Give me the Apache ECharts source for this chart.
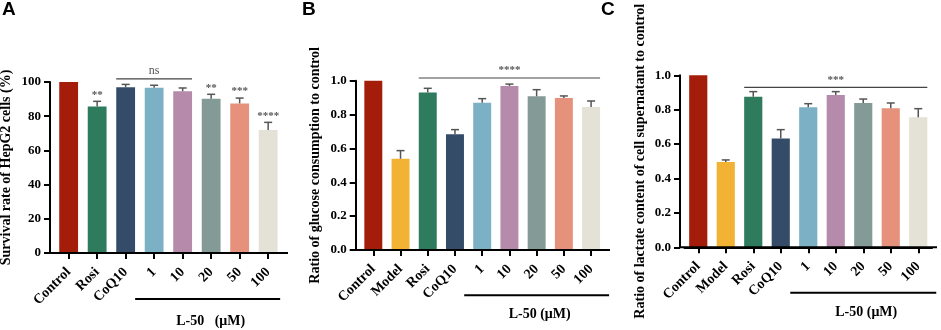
<!DOCTYPE html>
<html>
<head>
<meta charset="utf-8">
<script src="https://cdn.jsdelivr.net/npm/echarts@6/dist/echarts.min.js"></script>
<style>
html, body { margin: 0; padding: 0; background: #fff; }
#chart { width: 941px; height: 330px; }
</style>
</head>
<body>
<div id="chart"></div>
<script>
// ---- data ----
var catsA = ['Control', 'Rosi', 'CoQ10', '1', '10', '20', '50', '100'];
var meanA = [100, 85.6, 96.9, 96.7, 94.6, 90.2, 87.5, 71.9];
var upperA = [null, 88.7, 98.6, 98.1, 96.5, 92.8, 90.6, 76.4];
var sigA = ['', '**', '', '', '', '**', '***', '****'];
var ticksA = [0, 20, 40, 60, 80, 100];

var catsB = ['Control', 'Model', 'Rosi', 'CoQ10', '1', '10', '20', '50', '100'];
var meanB = [1.0, 0.539, 0.931, 0.683, 0.870, 0.969, 0.908, 0.898, 0.845];
var upperB = [null, 0.587, 0.955, 0.711, 0.894, 0.980, 0.947, 0.910, 0.880];

var catsC = ['Control', 'Model', 'Rosi', 'CoQ10', '1', '10', '20', '50', '100'];
var meanC = [1.0, 0.496, 0.876, 0.632, 0.814, 0.885, 0.839, 0.808, 0.756];
var upperC = [null, 0.508, 0.905, 0.684, 0.835, 0.905, 0.862, 0.839, 0.806];
var ticksBC = [0, 0.2, 0.4, 0.6, 0.8, 1.0];

var colorsA = ['#a31d0a', '#2e7b5d', '#354c68', '#7bb0c5', '#b58aab', '#849a97', '#e6917b', '#e4e1d6'];
var colorsB = ['#a31d0a', '#f2b233', '#2e7b5d', '#354c68', '#7bb0c5', '#b58aab', '#849a97', '#e6917b', '#e4e1d6'];

var bracketA = {from: 2, to: 4, y: 101.8, text: 'ns'};
var bracketB = {from: 2, to: 8, y: 1.016, text: '****'};
var bracketC = {from: 2, to: 8, y: 0.930, text: '***'};

var groupA = {from: 3, to: 7, text: 'L-50   (\u03bcM)'};
var groupB = {from: 4, to: 8, text: 'L-50 (\u03bcM)'};
var groupC = {from: 4, to: 8, text: 'L-50 (\u03bcM)'};

var titleA = 'Survival rate of HepG2 cells (%)';
var titleB = 'Ratio of glucose consumption to control';
var titleC = 'Ratio of lactate content of cell supernatant to control';

// ---- styling ----
var SERIF = 'Liberation Serif, Times New Roman, serif';
var panels = [
    {grid: {left: 54.4, top: 82, width: 228, height: 171}, yOff: 4.4, extR: 5.6, nameGap: 37, grpL: -19, grpR: 12, grpY: 46, grpTextY: 68},
    {grid: {left: 359.7, top: 80.7, width: 245, height: 169.3}, yOff: 4, extR: 5.3, nameGap: 33, grpL: -18, grpR: 18, grpY: 45.3, grpTextY: 64},
    {grid: {left: 684.5, top: 75.3, width: 247.5, height: 172}, yOff: 4.5, extR: 5, nameGap: 33, grpL: -18, grpR: 18, grpY: 45.4, grpTextY: 64.7}
];

function errorRender(sig) {
    return function (params, api) {
        var idx = api.value(0);
        var base = api.coord([idx, api.value(1)]);
        var top = api.coord([idx, api.value(2)]);
        var cap = 4;
        var kids = [
            {type: 'line', shape: {x1: base[0], y1: base[1], x2: base[0], y2: top[1]}, style: {stroke: '#555', lineWidth: 1.5}},
            {type: 'line', shape: {x1: base[0] - cap, y1: top[1], x2: base[0] + cap, y2: top[1]}, style: {stroke: '#555', lineWidth: 1.5}}
        ];
        var s = sig ? sig[idx] : '';
        if (s) {
            kids.push({type: 'text', style: {text: s, x: base[0], y: top[1] - 1, align: 'center', verticalAlign: 'bottom',
                fill: '#555', fontFamily: SERIF, fontWeight: 'bold', fontSize: 11}});
        }
        return {type: 'group', children: kids};
    };
}

function annotRender(p, br, grp) {
    return function (params, api) {
        var cs = params.coordSys;
        var y0 = cs.y + cs.height;
        var bw = api.size([1, 0])[0] * 0.66;
        var b1 = api.coord([br.from, br.y]);
        var b2 = api.coord([br.to, br.y]);
        var bx1 = b1[0] - bw / 2, bx2 = b2[0] + bw / 2;
        var g1 = api.coord([grp.from, 0])[0] + p.grpL;
        var g2 = api.coord([grp.to, 0])[0] + p.grpR;
        var black = {stroke: '#000', lineWidth: 2};
        var isNs = br.text === 'ns';
        return {type: 'group', children: [
            {type: 'line', shape: {x1: cs.x - p.yOff - 1, y1: y0, x2: cs.x + cs.width + p.extR, y2: y0}, style: black},
            {type: 'line', shape: {x1: bx1, y1: b1[1], x2: bx2, y2: b1[1]}, style: {stroke: '#444', lineWidth: 1.2}},
            {type: 'text', style: {text: br.text, x: (bx1 + bx2) / 2, y: b1[1] - 2, align: 'center', verticalAlign: 'bottom',
                fill: '#555', fontFamily: SERIF, fontWeight: isNs ? 'normal' : 'bold', fontSize: isNs ? 12 : 11}},
            {type: 'line', shape: {x1: g1, y1: y0 + p.grpY, x2: g2, y2: y0 + p.grpY}, style: black},
            {type: 'text', style: {text: grp.text, x: (g1 + g2) / 2 + 3, y: y0 + p.grpTextY, align: 'center', verticalAlign: 'middle',
                fill: '#000', fontFamily: SERIF, fontWeight: 'bold', fontSize: 14}}
        ]};
    };
}

var chart = echarts.init(document.getElementById('chart'));

var sets = [
    {cats: catsA, mean: meanA, upper: upperA, sig: sigA, colors: colorsA, ticks: ticksA, br: bracketA, grp: groupA, title: titleA, dec: 0},
    {cats: catsB, mean: meanB, upper: upperB, sig: null, colors: colorsB, ticks: ticksBC, br: bracketB, grp: groupB, title: titleB, dec: 1},
    {cats: catsC, mean: meanC, upper: upperC, sig: null, colors: colorsB, ticks: ticksBC, br: bracketC, grp: groupC, title: titleC, dec: 1}
];

var grids = [], xAxes = [], yAxes = [], series = [];
sets.forEach(function (d, k) {
    var p = panels[k];
    grids.push(Object.assign({outerBoundsMode: 'none', containLabel: false}, p.grid));
    xAxes.push({
        type: 'category', gridIndex: k, data: d.cats,
        axisLine: {show: true, lineStyle: {color: '#000', width: 2}},
        axisTick: {show: true, alignWithLabel: true, length: 6, lineStyle: {color: '#000', width: 2}},
        axisLabel: {rotate: 45, margin: 17, interval: 0, color: '#000', fontFamily: SERIF, fontWeight: 'bold', fontSize: 14}
    });
    var step = d.ticks[1] - d.ticks[0];
    yAxes.push({
        type: 'value', gridIndex: k, min: d.ticks[0], max: d.ticks[d.ticks.length - 1], interval: step, offset: p.yOff,
        name: d.title, nameLocation: 'middle', nameGap: p.nameGap, nameRotate: 90,
        nameTextStyle: {color: '#000', fontFamily: SERIF, fontWeight: 'bold', fontSize: 14},
        axisLine: {show: true, lineStyle: {color: '#000', width: 2}},
        axisTick: {show: true, length: 6, lineStyle: {color: '#000', width: 2}},
        splitLine: {show: false},
        axisLabel: {margin: 9, color: '#000', fontFamily: SERIF, fontWeight: 'bold', fontSize: 13,
            formatter: function (v) { return v.toFixed(d.dec); }}
    });
    series.push({
        type: 'bar', xAxisIndex: k, yAxisIndex: k, barWidth: '66%', silent: true,
        data: d.mean.map(function (v, i) { return {value: v, itemStyle: {color: d.colors[i]}}; })
    });
    var errData = [];
    d.upper.forEach(function (u, i) { if (u != null) errData.push([i, d.mean[i], u]); });
    series.push({
        type: 'custom', xAxisIndex: k, yAxisIndex: k, silent: true, z: 3,
        renderItem: errorRender(d.sig), data: errData
    });
    series.push({
        type: 'custom', xAxisIndex: k, yAxisIndex: k, silent: true, z: 4, clip: false,
        renderItem: annotRender(p, d.br, d.grp), data: [[0, 0]]
    });
});

var option = {
    animation: false,
    title: ['A', 'B', 'C'].map(function (t, i) {
        return {text: t, left: [2, 302, 601][i], top: 0, padding: 0,
            textStyle: {fontFamily: 'Liberation Sans, Arial, sans-serif', fontWeight: 'bold', fontSize: 19, color: '#000'}};
    }),
    grid: grids,
    xAxis: xAxes,
    yAxis: yAxes,
    series: series
};
chart.setOption(option);
</script>
</body>
</html>
